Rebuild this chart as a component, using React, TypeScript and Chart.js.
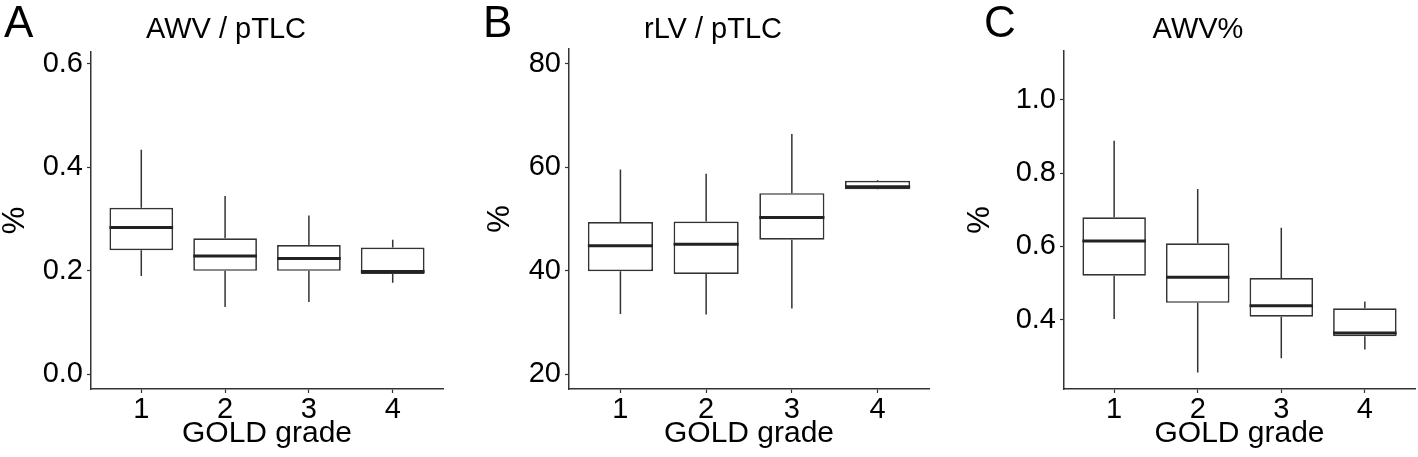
import React, { useEffect, useRef } from 'react';
import { Chart, registerables } from 'chart.js';

Chart.register(...registerables);

const FONT = "'Liberation Sans', Arial, Helvetica, sans-serif";

// ---------- shared ----------
const grades = ['1', '2', '3', '4'];
const xAxisLabel = 'GOLD grade';
const yAxisLabel = '%';

// ---------- Panel A: AWV / pTLC ----------
const awvTlcLower = [0.190, 0.130, 0.140, 0.177];
const awvTlcQ1 = [0.240, 0.200, 0.200, 0.194];
const awvTlcMedian = [0.284, 0.229, 0.224, 0.199];
const awvTlcQ3 = [0.322, 0.263, 0.250, 0.245];
const awvTlcUpper = [0.434, 0.345, 0.307, 0.260];
const awvTlcTicks = ['0.0', '0.2', '0.4', '0.6'];

// ---------- Panel B: rLV / pTLC ----------
const rlvLower = [31.6, 31.5, 32.7, 55.7];
const rlvQ1 = [39.9, 39.35, 46.0, 55.75];
const rlvMedian = [44.8, 45.1, 50.3, 56.25];
const rlvQ3 = [49.4, 49.5, 55.0, 57.4];
const rlvUpper = [59.6, 58.75, 66.45, 57.55];
const rlvTicks = ['20', '40', '60', '80'];

// ---------- Panel C: AWV% ----------
const awvPctLower = [0.402, 0.256, 0.295, 0.319];
const awvPctQ1 = [0.520, 0.446, 0.408, 0.355];
const awvPctMedian = [0.615, 0.516, 0.438, 0.364];
const awvPctQ3 = [0.680, 0.609, 0.514, 0.431];
const awvPctUpper = [0.889, 0.757, 0.651, 0.450];
const awvPctTicks = ['0.4', '0.6', '0.8', '1.0'];

type Panel = {
  letter: string;
  title: string;
  lower: number[];
  q1: number[];
  median: number[];
  q3: number[];
  upper: number[];
  ticks: string[];
  yMin: number;
  yMax: number;
  left: number;
  width: number;
  axisWidth: number;
  padTop: number;
  padRight: number;
  yTitlePad: number;
  letterX: number;
  titleX: number;
};

const HEIGHT = 457;
const X_AXIS_HEIGHT = 68;

const panels: Panel[] = [
  {
    letter: 'A', title: 'AWV / pTLC',
    lower: awvTlcLower, q1: awvTlcQ1, median: awvTlcMedian, q3: awvTlcQ3, upper: awvTlcUpper,
    ticks: awvTlcTicks, yMin: -0.0284, yMax: 0.6232,
    left: 0, width: 470, axisWidth: 91, padTop: 52, padRight: 27, yTitlePad: 0,
    letterX: 4, titleX: 226,
  },
  {
    letter: 'B', title: 'rLV / pTLC',
    lower: rlvLower, q1: rlvQ1, median: rlvMedian, q3: rlvQ3, upper: rlvUpper,
    ticks: rlvTicks, yMin: 17.1, yMax: 82.9,
    left: 470, width: 480, axisWidth: 99, padTop: 49, padRight: 21, yTitlePad: 15,
    letterX: 13, titleX: 243,
  },
  {
    letter: 'C', title: 'AWV%',
    lower: awvPctLower, q1: awvPctQ1, median: awvPctMedian, q3: awvPctQ3, upper: awvPctUpper,
    ticks: awvPctTicks, yMin: 0.2108, yMax: 1.1338,
    left: 950, width: 468, axisWidth: 114, padTop: 51, padRight: 3, yTitlePad: 15,
    letterX: 34, titleX: 248,
  },
];

const LINE = '#333333';

function makeBoxPlugin(p: Panel) {
  return {
    id: 'boxExtras' + p.letter,
    beforeDatasetsDraw(chart: any) {
      const meta = chart.getDatasetMeta(0);
      const y = chart.scales.y;
      const ctx = chart.ctx;
      ctx.save();
      ctx.strokeStyle = LINE;
      ctx.lineWidth = 1.5;
      meta.data.forEach((el: any, i: number) => {
        const x = el.x;
        ctx.beginPath();
        ctx.moveTo(x, y.getPixelForValue(p.upper[i]));
        ctx.lineTo(x, y.getPixelForValue(p.q3[i]));
        ctx.moveTo(x, y.getPixelForValue(p.q1[i]));
        ctx.lineTo(x, y.getPixelForValue(p.lower[i]));
        ctx.stroke();
      });
      ctx.restore();
    },
    afterDatasetsDraw(chart: any) {
      const meta = chart.getDatasetMeta(0);
      const y = chart.scales.y;
      const ctx = chart.ctx;
      ctx.save();
      ctx.strokeStyle = '#222222';
      ctx.lineWidth = 3;
      meta.data.forEach((el: any, i: number) => {
        const w = el.width;
        const yy = y.getPixelForValue(p.median[i]);
        ctx.beginPath();
        ctx.moveTo(el.x - w / 2, yy);
        ctx.lineTo(el.x + w / 2, yy);
        ctx.stroke();
      });
      ctx.restore();
    },
    afterDraw(chart: any) {
      const ctx = chart.ctx;
      ctx.save();
      ctx.fillStyle = '#000';
      ctx.textBaseline = 'alphabetic';
      ctx.textAlign = 'left';
      ctx.font = `44px ${FONT}`;
      ctx.fillText(p.letter, p.letterX, 37);
      ctx.textAlign = 'center';
      ctx.font = `29px ${FONT}`;
      ctx.fillText(p.title, p.titleX, 38);
      ctx.restore();
    },
  };
}

function BoxPanel({ p }: { p: Panel }) {
  const ref = useRef<HTMLCanvasElement | null>(null);
  useEffect(() => {
    if (!ref.current) return;
    const chart = new Chart(ref.current, {
      type: 'bar',
      data: {
        datasets: [
          {
            data: grades.map((g, i) => ({ x: i + 1, y: [p.q1[i], p.q3[i]] })) as any,
            backgroundColor: '#ffffff',
            borderColor: LINE,
            borderWidth: 1.7,
            borderSkipped: false,
            barPercentage: 0.76,
            categoryPercentage: 1,
          },
        ],
      },
      options: {
        animation: false,
        responsive: false,
        devicePixelRatio: 1,
        indexAxis: 'x',
        layout: { padding: { left: 0, right: p.padRight, top: p.padTop, bottom: 0 } },
        plugins: {
          legend: { display: false },
          tooltip: { enabled: false },
          title: { display: false },
        },
        scales: {
          x: {
            type: 'linear',
            min: 0.4,
            max: 4.6,
            offset: false,
            afterBuildTicks: (s: any) => {
              s.ticks = grades.map((_, i) => ({ value: i + 1 }));
            },
            afterFit: (s: any) => {
              s.height = X_AXIS_HEIGHT;
            },
            ticks: {
              callback: (v: any) => grades[Math.round(Number(v)) - 1],
              color: '#000',
              font: { family: FONT, size: 29, lineHeight: 1.2 },
              padding: 0,
              autoSkip: false,
              maxRotation: 0,
              minRotation: 0,
            },
            grid: {
              display: true,
              offset: false,
              drawOnChartArea: false,
              drawTicks: true,
              tickLength: 4,
              tickColor: LINE,
              tickWidth: 1.2,
            },
            border: { display: true, color: LINE, width: 1.5 },
            title: {
              display: true,
              text: xAxisLabel,
              color: '#000',
              font: { family: FONT, size: 30, lineHeight: 1.2 },
              padding: { top: 0, bottom: 5 },
            },
          },
          y: {
            type: 'linear',
            min: p.yMin,
            max: p.yMax,
            beginAtZero: false,
            afterBuildTicks: (s: any) => {
              s.ticks = p.ticks.map((t) => ({ value: parseFloat(t) }));
            },
            afterFit: (s: any) => {
              s.width = p.axisWidth;
            },
            ticks: {
              callback: (_v: any, i: number) => p.ticks[i],
              color: '#000',
              font: { family: FONT, size: 29, lineHeight: 1.2 },
              padding: 4,
            },
            grid: {
              display: true,
              drawOnChartArea: false,
              drawTicks: true,
              tickLength: 4,
              tickColor: LINE,
              tickWidth: 1.2,
            },
            border: { display: true, color: LINE, width: 1.5 },
            title: {
              display: true,
              text: yAxisLabel,
              color: '#000',
              font: { family: FONT, size: 31, lineHeight: 1 },
              padding: { top: p.yTitlePad, bottom: 0 },
            },
          },
        },
      } as any,
      plugins: [makeBoxPlugin(p)],
    });
    return () => chart.destroy();
  }, [p]);
  return (
    <div style={{ position: 'absolute', left: p.left, top: 0, width: p.width, height: HEIGHT }}>
      <canvas ref={ref} width={p.width} height={HEIGHT} style={{ display: 'block' }} />
    </div>
  );
}

export default function App() {
  return (
    <div
      style={{
        position: 'absolute',
        left: 0,
        top: 0,
        width: 1418,
        height: HEIGHT,
        background: '#ffffff',
        overflow: 'hidden',
      }}
    >
      {panels.map((p) => (
        <BoxPanel key={p.letter} p={p} />
      ))}
    </div>
  );
}
